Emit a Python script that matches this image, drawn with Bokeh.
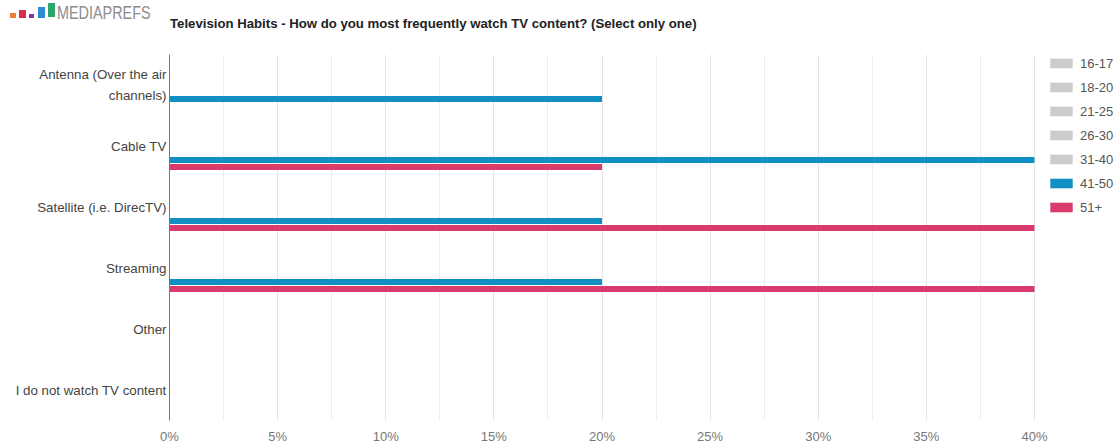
from bokeh.plotting import figure
from bokeh.layouts import column
from bokeh.models import (FactorRange, FixedTicker, Legend, LegendItem, Range1d, Div,
                          ColumnDataSource, CustomJSTickFormatter)
from bokeh.transform import dodge
from bokeh.embed import file_html
from bokeh.resources import INLINE

categories = ["Antenna (Over the air\nchannels)", "Cable TV", "Satellite (i.e. DirecTV)",
              "Streaming", "Other", "I do not watch TV content"]
series = ["16-17", "18-20", "21-25", "26-30", "31-40", "41-50", "51+"]
values = {
    "16-17": [0, 0, 0, 0, 0, 0],
    "18-20": [0, 0, 0, 0, 0, 0],
    "21-25": [0, 0, 0, 0, 0, 0],
    "26-30": [0, 0, 0, 0, 0, 0],
    "31-40": [0, 0, 0, 0, 0, 0],
    "41-50": [20, 40, 20, 20, 0, 0],
    "51+":   [0, 20, 40, 40, 0, 0],
}
colors = ["#cccccc", "#cccccc", "#cccccc", "#cccccc", "#cccccc", "#118fc3", "#d93b6d"]
x_ticks = [0, 5, 10, 15, 20, 25, 30, 35, 40]
title_text = "Television Habits - How do you most frequently watch TV content? (Select only one)"
brand_text = "MEDIAPREFS"

W, H = 1116, 448
TOP_H = 54
FL, FR = 169, 1034          # frame left / 40% position (canvas px)
ROWS_H = 366                # frame height
MAIN_H = H - TOP_H

# ---------------- header (logo + title) ----------------
logo_boxes = [(10, 16, 12.5, 17.5, "#ee7f3b"), (19, 25.5, 9.5, 17.5, "#d8304b"),
              (28.5, 34, 14, 17.5, "#7a3b9e"), (38, 45, 7, 17.5, "#2c8ccf"),
              (47.5, 55, 2.7, 17.5, "#2da66b")]
parts = []
for l, r, t, b, c in logo_boxes:
    parts.append(f'<div style="position:absolute;left:{l}px;top:{t}px;width:{r-l}px;'
                 f'height:{b-t}px;background:{c};"></div>')
parts.append('<span style="position:absolute;left:57px;top:3.5px;white-space:nowrap;'
             'font-family:\'Liberation Sans\';font-size:18px;line-height:1;color:#8c8c8c;'
             'transform:scaleX(0.8);transform-origin:0 0;display:inline-block;">'
             f'{brand_text}</span>')
parts.append('<span style="position:absolute;left:170px;top:16.8px;white-space:nowrap;'
             'font-family:\'Liberation Sans\';font-weight:bold;font-size:13.2px;'
             f'line-height:1;color:#222222;">{title_text}</span>')
header_html = (f'<div style="position:relative;width:{W}px;height:{TOP_H}px;margin:0;padding:0;">'
               + "".join(parts) + '</div>')
header = Div(text=header_html, width=W, height=TOP_H, margin=0,
             styles={"padding": "0", "margin": "0"})

# ---------------- main chart ----------------
x_end = 40.0 * (W - FL) / (FR - FL)
p = figure(width=W, height=MAIN_H, output_backend="svg", toolbar_location=None,
           y_range=FactorRange(factors=categories[::-1]), x_range=Range1d(0, x_end),
           min_border_left=FL, min_border_right=0, min_border_top=0,
           min_border_bottom=MAIN_H - ROWS_H)
p.outline_line_color = None

data = {"cat": categories}
for s in series:
    data[s] = values[s]
src = ColumnDataSource(data)

step = 7.0 / 61.0
items = []
for i, s in enumerate(series):
    r = p.hbar(y=dodge("cat", -(i - 3) * step, range=p.y_range), left=0, right=s,
               height=6.0 / 61.0, source=src, fill_color=colors[i], line_color=None)
    items.append(LegendItem(label=s, renderers=[r]))

legend = Legend(items=items, location=(1047 - FL, ROWS_H - (215 - TOP_H)), orientation="vertical",
                glyph_width=28, glyph_height=12, label_height=16, spacing=8,
                label_standoff=5, label_text_font="Liberation Sans",
                label_text_font_size="13px", label_text_color="#555555",
                border_line_color=None, background_fill_alpha=0, padding=0, margin=0)
p.add_layout(legend, "center")

# x axis
p.xaxis.ticker = FixedTicker(ticks=x_ticks, minor_ticks=[t + 2.5 for t in x_ticks[:-1]])
p.xaxis.formatter = CustomJSTickFormatter(code="return tick + '%';")
p.xaxis.axis_line_color = None
p.xaxis.major_tick_line_color = None
p.xaxis.minor_tick_line_color = None
p.xaxis.major_tick_out = 0
p.xaxis.major_tick_in = 0
p.xaxis.minor_tick_out = 0
p.xaxis.major_label_text_font = "Liberation Sans"
p.xaxis.major_label_text_font_size = "13px"
p.xaxis.major_label_text_color = "#777777"
p.xaxis.major_label_standoff = 8
p.xgrid.grid_line_color = "#e4e4e4"
p.xgrid.minor_grid_line_color = "#ececec"
p.ygrid.grid_line_color = None

# y axis
p.yaxis.axis_line_color = "#777777"
p.yaxis.major_tick_line_color = None
p.yaxis.minor_tick_line_color = None
p.yaxis.major_tick_out = 0
p.yaxis.major_tick_in = 0
p.yaxis.major_label_text_font = "Liberation Sans"
p.yaxis.major_label_text_font_size = "13.3px"
p.yaxis.major_label_text_color = "#444444"
p.yaxis.major_label_text_line_height = 1.4
p.yaxis.major_label_standoff = 3

layout = column(header, p, spacing=0)
open("out.html", "w").write(file_html(layout, INLINE))
